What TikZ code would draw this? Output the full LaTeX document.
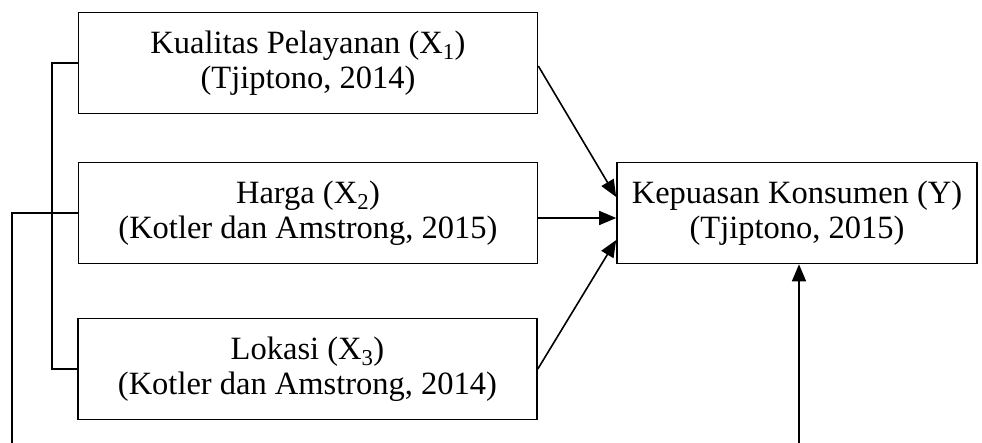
\documentclass[tikz,border=0pt]{standalone}
\usepackage{fontspec}
\setmainfont{Liberation Serif}
\usetikzlibrary{positioning, arrows.meta}

\begin{document}
\begin{tikzpicture}[x=1pt, y=-1pt,
        % Styles
        variabel/.style={draw, line width=1.6pt, minimum width=459pt, minimum height=101pt, align=center, inner sep=0pt, font=\fontsize{32.5}{35}\selectfont},
        terikat/.style={variabel, minimum width=360pt},
        garis/.style={line width=1.6pt},
        panah/.style={line width=1.6pt, -{Triangle[length=17pt, width=14pt]}},
    ]
        \useasboundingbox (0,0) rectangle (982,443);

        % === Independent variables ===
        \node[variabel] (kualitas) at (308,63) {Kualitas Pelayanan (X\textsubscript{1})\\(Tjiptono, 2014)};
        \node[variabel] (harga) at (308,213) {Harga (X\textsubscript{2})\\(Kotler dan Amstrong, 2015)};
        \node[variabel] (lokasi) at (307.5,369) {Lokasi (X\textsubscript{3})\\(Kotler dan Amstrong, 2014)};

        % === Dependent variable ===
        \node[terikat] (kepuasan) at (797,213) {Kepuasan Konsumen (Y)\\(Tjiptono, 2015)};

        % === Arrows into Y ===
        \draw[panah] ([yshift=-3pt]kualitas.east) -- ([yshift=16pt]kepuasan.west);
        \draw[panah] ([yshift=-5pt]harga.east) -- ([yshift=-5pt]kepuasan.west);
        \draw[panah] (lokasi.east) -- ([yshift=-27pt]kepuasan.west);

        % === Bracket joining X1 and X3 ===
        \coordinate (kurung) at (52,63);
        \draw[garis] (kualitas.west) -- (kurung) -- (kurung |- lokasi.west) -- (lokasi.west);

        % === Line from X2 down the left side ===
        \coordinate (kiri) at (12,443);
        \draw[garis] (harga.west) -- (kiri |- harga.west) -- (kiri);

        % === Arrow from below into Y ===
        \coordinate (bawah) at (799,443);
        \draw[panah] (bawah) -- (bawah |- kepuasan.south);
    \end{tikzpicture}
\end{document}
